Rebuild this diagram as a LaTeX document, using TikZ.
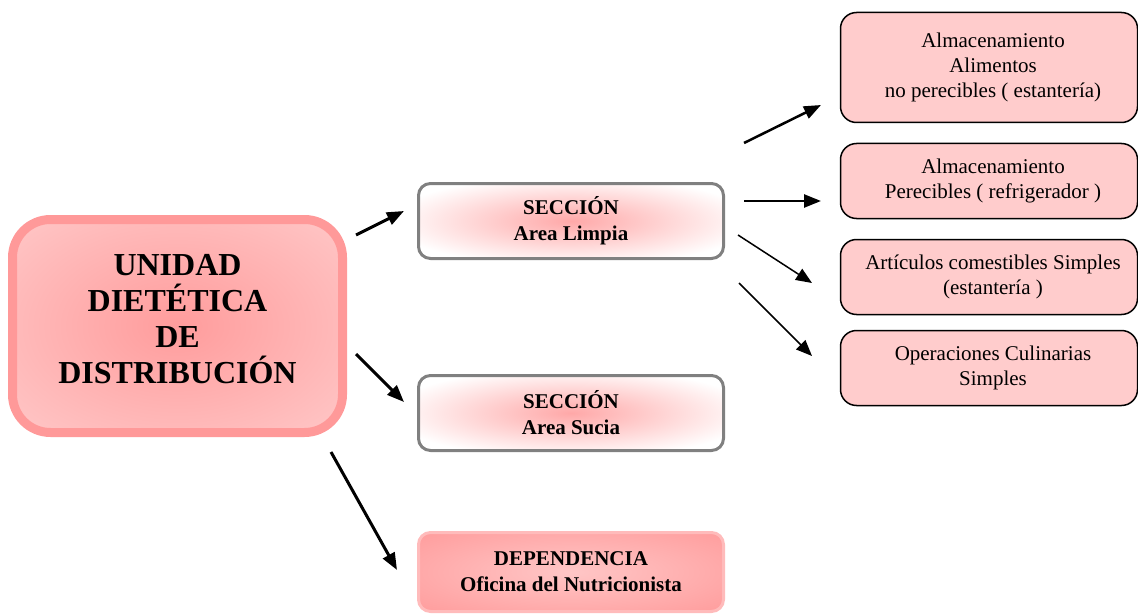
\documentclass[tikz,border=0pt]{standalone}
\usepackage{fontspec}
\setmainfont{Liberation Serif}
\usetikzlibrary{arrows.meta}

\definecolor{mainedge}{HTML}{FF9999}
\definecolor{mainin}{HTML}{FF9C9C}
\definecolor{mainout}{HTML}{FFCACA}
\definecolor{glowpink}{HTML}{FFA8A8}
\definecolor{depedge}{HTML}{FFBBBB}
\definecolor{depin}{HTML}{FFC6C6}
\definecolor{depout}{HTML}{FF9C9C}
\definecolor{boxfill}{HTML}{FFCCCC}
\definecolor{secedge}{HTML}{808080}

% radial fills for the shaded boxes
\pgfdeclareradialshading{mainglow}{\pgfpoint{0bp}{0bp}}{color(0bp)=(mainin); color(38bp)=(mainout); color(50bp)=(mainout)}
\pgfdeclareradialshading{secglow}{\pgfpoint{0bp}{0bp}}{color(0bp)=(glowpink); color(30bp)=(white); color(50bp)=(white)}
\pgfdeclareradialshading{depglow}{\pgfpoint{0bp}{0bp}}{color(0bp)=(depin); color(36bp)=(depout); color(50bp)=(depout)}

\tikzset{
  mainbox/.style={draw=mainedge, line width=9pt, rounded corners=38pt, shade, shading=mainglow,
    minimum width=330pt, minimum height=213pt},
  maintext/.style={align=center, font=\fontsize{32}{36}\selectfont\bfseries},
  secbox/.style={draw=secedge, line width=3pt, rounded corners=12pt, shade, shading=secglow,
    minimum width=305pt, minimum height=75pt, align=center,
    font=\fontsize{21}{26}\selectfont\bfseries},
  depbox/.style={draw=depedge, line width=3pt, rounded corners=12pt, shade, shading=depglow,
    minimum width=305pt, minimum height=79pt, align=center,
    font=\fontsize{21}{26}\selectfont\bfseries},
  itembox/.style={draw=black, line width=1.5pt, rounded corners=16pt, fill=boxfill,
    minimum width=297pt},
  itemtext/.style={align=center, font=\fontsize{21}{25}\selectfont},
  bigarrow/.style={line width=3pt, -{Triangle[length=17pt, width=13pt]}},
  midarrow/.style={line width=2.5pt, -{Triangle[length=17pt, width=13pt]}},
  thinarrow/.style={line width=1.5pt, -{Triangle[length=16pt, width=13pt]}},
}

\begin{document}
\begin{tikzpicture}[x=1pt, y=-1pt]
\useasboundingbox (0,0) rectangle (1138,615);
\clip (0,0) rectangle (1138,615);

% central unit
\node[mainbox] (unit) at (177.5,326) {};
\node[maintext] (unittext) at ([yshift=7pt]unit.center) {UNIDAD\\DIETÉTICA\\DE\\DISTRIBUCIÓN};

% sections
\node[secbox] (clean) at (571,221) {SECCIÓN\\Area Limpia};
\node[secbox] (dirty) at (571,413) {SECCIÓN\\Area Sucia};
\node[depbox] (office) at (571,572) {DEPENDENCIA\\Oficina del Nutricionista};

% clean-area functions
\node[itembox, minimum height=110pt] (dry) at (989,67.5) {};
\node[itembox, minimum height=75pt] (cold) at (989,181) {};
\node[itembox, minimum height=75pt] (goods) at (989,277) {};
\node[itembox, minimum height=75pt] (ops) at (989,368) {};
\node[itemtext] at ([xshift=4pt]dry.center) {Almacenamiento\\Alimentos\\no perecibles ( estantería)};
\node[itemtext] at ([xshift=4pt]cold.center) {Almacenamiento\\Perecibles ( refrigerador )};
\node[itemtext] at ([xshift=4pt]goods.center) {Artículos comestibles Simples\\(estantería )};
\node[itemtext] at ([xshift=4pt]ops.center) {Operaciones Culinarias\\Simples};

% arrow end points
\coordinate (u1) at (356,235);  \coordinate (c1) at (404,211);
\coordinate (u2) at (356,354);  \coordinate (d1) at (404,402);
\coordinate (u3) at (331,452);  \coordinate (o1) at (397,570);
\coordinate (l1) at (744,143);  \coordinate (r1) at (821,105);
\coordinate (l2) at (744,201);  \coordinate (r2) at (821,201);
\coordinate (l3) at (738,235);  \coordinate (r3) at (812,283);
\coordinate (l4) at (739,283);  \coordinate (r4) at (812,356);

\draw[bigarrow] (u1) -- (c1);
\draw[bigarrow] (u2) -- (d1);
\draw[bigarrow] (u3) -- (o1);
\draw[midarrow] (l1) -- (r1);
\draw[midarrow] (l2) -- (r2);
\draw[thinarrow] (l3) -- (r3);
\draw[thinarrow] (l4) -- (r4);
\end{tikzpicture}
\end{document}
